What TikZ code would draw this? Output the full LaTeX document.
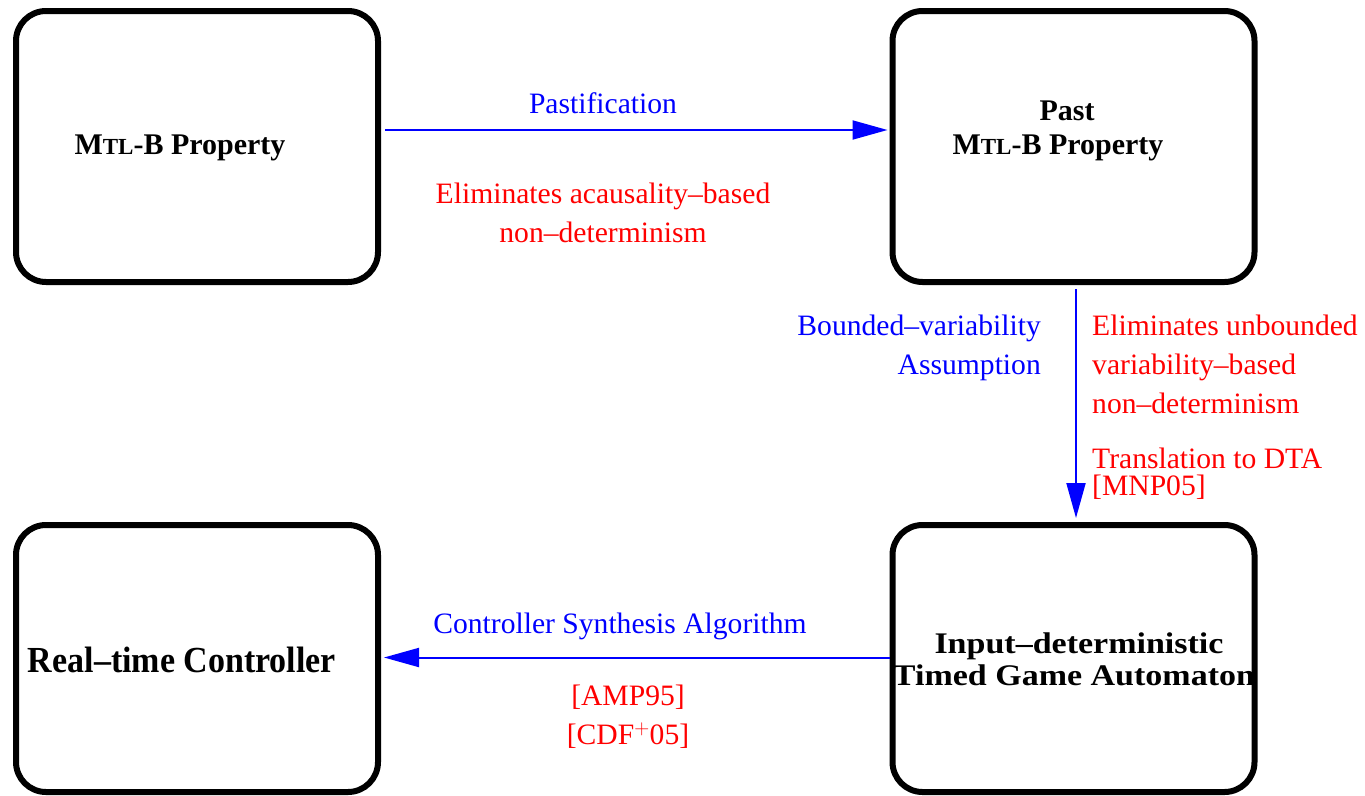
\documentclass[tikz,border=0pt]{standalone}
\usepackage{fontspec}
\setmainfont{Liberation Serif}
\usetikzlibrary{arrows.meta}
\definecolor{lblue}{RGB}{0,0,255}
\definecolor{lred}{RGB}{255,0,0}
\newcommand{\mtlb}{M{\fontsize{23}{23}\selectfont TL}-B}
\begin{document}
\begin{tikzpicture}[x=1pt,y=-1pt,
  box/.style={draw,line width=6pt,rounded corners=30pt,minimum width=362pt,inner sep=0pt},
  topbox/.style={box,minimum height=271pt},
  lowbox/.style={box,minimum height=267pt},
  flow/.style={draw=lblue,line width=2pt,-{Triangle[length=35pt,width=19pt]}},
  lbl/.style={inner sep=0pt,anchor=base,font=\fontsize{29.6}{39}\selectfont},
  title/.style={inner sep=0pt,anchor=base,font=\bfseries\fontsize{30}{34}\selectfont},
  bigtitle/.style={inner sep=0pt,anchor=base,font=\bfseries\fontsize{34}{32}\selectfont}]
\clip (0,0) rectangle (1365,795);
\fill[white] (0,0) rectangle (1365,795);

% the four stages
\node[topbox] (mtl)  at (197,146.5)  {};
\node[topbox] (past) at (1073.5,146.5) {};
\node[lowbox] (ctrl) at (197,658.5)  {};
\node[lowbox] (tga)  at (1073.5,658.5) {};

% stage titles (the base anchor of a multi-line node sits on its last line)
\node[title] (t1) at (180,154) {\mtlb\ Property};
\node[title,align=center] (t2) at (1058,154) {\hspace*{18pt}Past\\\mtlb\ Property};
\node[bigtitle] (t3) at (182,672.5) {\scalebox{1}[1.08]{Real--time Controller}};
\node[bigtitle,align=center] (t4) at (1074,685)
  {\hspace*{10pt}\scalebox{1}[0.88]{Input--deterministic}\\\scalebox{1}[0.88]{Timed Game Automaton}};

% transformations
\draw[flow] ([xshift=4pt,yshift=16.5pt]mtl.east) -- ([xshift=-2pt,yshift=16.5pt]past.west);
\draw[flow] ([xshift=2.5pt,yshift=-4pt]past.south) -- ([xshift=2.5pt,yshift=4pt]tga.north);
\draw[flow] ([yshift=1pt]tga.west) -- ([xshift=3pt,yshift=1pt]ctrl.east);

% labels of the transformations
\node[lbl,text=lblue] (l1) at (603,113) {Pastification};
\node[lbl,text=lred,align=center] (l2) at (603,242) {Eliminates acausality--based\\non--determinism};
\node[lbl,text=lblue,align=right,anchor=base east] (l3) at (1041,374) {Bounded--variability\\Assumption};
\node[lbl,text=lred,align=left,anchor=base west] (l4) at (1092,413) {Eliminates unbounded\\variability--based\\non--determinism};
\node[lbl,text=lred,align=left,anchor=base west,font=\fontsize{29.6}{27}\selectfont] (l5) at (1092,495)
  {Translation to DTA\\{}{[MNP05]}};
\node[lbl,text=lblue] (l7) at (620,633) {Controller Synthesis Algorithm};
\node[lbl,text=lred,align=center] (l8) at (628,744) {{[AMP95]}\\{}{[CDF$^{+}$05]}};
\end{tikzpicture}
\end{document}
